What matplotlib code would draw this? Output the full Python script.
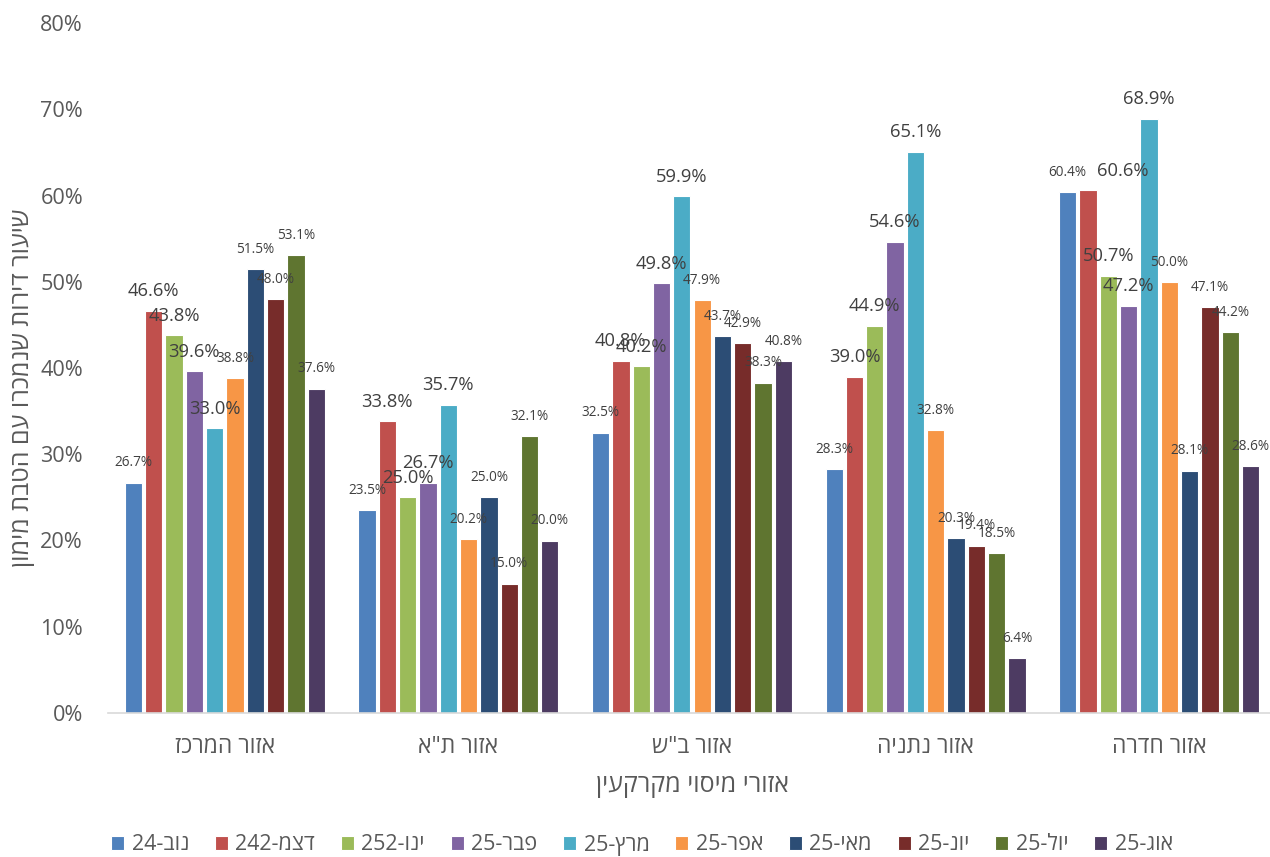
import re
import numpy as np
import matplotlib
matplotlib.use("Agg")
import matplotlib.pyplot as plt

plt.rcParams['font.family'] = ['Open Sans', 'Liberation Sans', 'DejaVu Sans']

# Regions (categories) and monthly series, values in percent
regions = ["אזור המרכז", 'אזור ת"א', 'אזור ב"ש', "אזור נתניה", "אזור חדרה"]
series_names = ["נוב-24", "דצמ-242", "ינו-252", "פבר-25", "מרץ-25",
                "אפר-25", "מאי-25", "יונ-25", "יול-25", "אוג-25"]

nov24 = [26.7, 23.5, 32.5, 28.3, 60.4]
dec24 = [46.6, 33.8, 40.8, 39.0, 60.6]
jan25 = [43.8, 25.0, 40.2, 44.9, 50.7]
feb25 = [39.6, 26.7, 49.8, 54.6, 47.2]
mar25 = [33.0, 35.7, 59.9, 65.1, 68.9]
apr25 = [38.8, 20.2, 47.9, 32.8, 50.0]
may25 = [51.5, 25.0, 43.7, 20.3, 28.1]
jun25 = [48.0, 15.0, 42.9, 19.4, 47.1]
jul25 = [53.1, 32.1, 38.3, 18.5, 44.2]
aug25 = [37.6, 20.0, 40.8, 6.4, 28.6]

tick_values = [0, 10, 20, 30, 40, 50, 60, 70, 80]

x_title = "אזורי מיסוי מקרקעין"
y_title = "שיעור דירות שנמכרו עם הטבת מימון"

all_series = [nov24, dec24, jan25, feb25, mar25, apr25, may25, jun25, jul25, aug25]
colors = ["#4F81BD", "#C0504D", "#9BBB59", "#8064A2", "#4BACC6",
          "#F79646", "#2C4D75", "#772C2A", "#5F7530", "#4D3B62"]
label_sizes = [9.8, 13.2, 13.2, 13.2, 13.2, 9.8, 9.8, 9.8, 9.8, 9.8]
# horizontal nudges (points) for individual value labels: (series, region) -> dx
label_nudge = {(1, 4): 25}


def visual(s):
    """Reorder right-to-left text into left-to-right drawing order."""
    tokens = re.findall(r'[\u0590-\u05FF"]+|[0-9A-Za-z.%]+|.', s)
    out = []
    for t in reversed(tokens):
        if re.match(r'[\u0590-\u05FF]', t[0]):
            out.append(t[::-1])
        else:
            out.append(t)
    return ''.join(out)


W, H = 1270, 857
fig = plt.figure(figsize=(W / 100, H / 100), dpi=100)
ax = fig.add_axes([108 / W, (H - 713) / H, (1276 - 108) / W, (713 - 23) / H])

x = np.arange(len(regions))
pitch = 0.087
width = 0.074
n = len(all_series)
text_col = "#595959"
label_col = "#404040"

for i, (vals, name, col, fs) in enumerate(zip(all_series, series_names, colors, label_sizes)):
    xs = x + (i - (n - 1) / 2) * pitch
    bars = ax.bar(xs, vals, width=width, color=col, edgecolor="white",
                  linewidth=0.8, label=visual(name), zorder=2)
    for j, (b, v) in enumerate(zip(bars, vals)):
        dx = label_nudge.get((i, j), 0)
        ax.annotate(f"{v:.1f}%", (b.get_x() + b.get_width() / 2, v),
                    xytext=(dx, 14.2), textcoords="offset points",
                    ha="center", va="center", fontsize=fs, color=label_col,
                    zorder=5)

ax.set_xlim(-0.5, len(regions) - 0.5)
ax.set_ylim(0, 80)
ax.set_yticks(tick_values)
ax.set_yticklabels([f"{t}%" for t in tick_values])
ax.set_xticks(x)
ax.set_xticklabels([visual(r) for r in regions])

for s in ["top", "right", "left"]:
    ax.spines[s].set_visible(False)
ax.spines["bottom"].set_color("#D9D9D9")
ax.spines["bottom"].set_linewidth(1.2)
ax.tick_params(axis="y", length=0, labelsize=15.6, labelcolor=text_col, pad=18)
ax.tick_params(axis="x", length=0, labelsize=16.5, labelcolor=text_col, pad=16)

fig.text(692 / W, 1 - 785 / H, visual(x_title), fontsize=18, color=text_col,
         ha="center", va="center")
fig.text(23 / W, 1 - 388 / H, visual(y_title), fontsize=18, color=text_col,
         ha="center", va="center", rotation=90)

fig.legend(loc="center", bbox_to_anchor=(642 / W, 1 - 845 / H), ncol=n,
           frameon=False, fontsize=15.5, handlelength=0.6, handleheight=0.6,
           handletextpad=0.35, columnspacing=1.2, labelcolor=text_col)

fig.savefig("out.png", dpi=100)
